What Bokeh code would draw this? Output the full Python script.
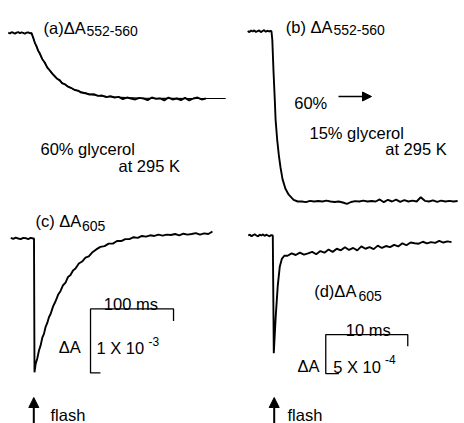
from bokeh.plotting import figure
from bokeh.models import Range1d, Arrow, NormalHead
from bokeh.core.properties import value
from bokeh.embed import file_html
from bokeh.resources import INLINE

# ---------------- data ----------------
# (a) dA552-560, 60% glycerol: time (ms), normalized absorbance change
a_time = [-28, -26, -24, -22, -20, -18, -16, -14, -12, -10, -8, -6, -4, -2, 0,
          2, 4, 6, 8, 10,
          13, 16, 19, 22, 25, 28, 31, 34, 37, 40,
          44, 48, 52, 56, 60,
          65, 70, 75, 80, 85, 90, 95, 100, 105, 110, 115, 120, 125, 130, 135,
          140, 145, 150, 155, 160, 165, 170, 175, 180, 185, 190, 195, 200, 205, 210]
a_signal = [0.005, -0.008, 0.012, 0.004, -0.01, 0.006, 0.014, -0.004, 0.01, 0.002, -0.012, 0.006, 0.01, -0.004, 0.0,
            -0.07, -0.15, -0.2, -0.27, -0.31,
            -0.40, -0.45, -0.53, -0.57, -0.62, -0.66, -0.70, -0.72, -0.77, -0.78,
            -0.82, -0.84, -0.87, -0.88, -0.91,
            -0.92, -0.94, -0.935, -0.96, -0.955, -0.98, -0.965, -0.985, -0.975, -1.01, -0.985, -1.0, -1.015, -0.99, -1.0,
            -1.025, -0.985, -1.005, -1.0, -1.03, -0.985, -1.015, -1.0, -1.025, -0.99, -1.03, -1.0, -0.985, -1.015, -1.0]
a_fit_time = [0, 3, 6, 9, 12, 15, 18, 21, 24, 27, 30, 35, 40, 45, 50, 55, 60, 70, 80, 90,
              100, 115, 130, 150, 170, 190, 210, 234]
a_fit = [0, -0.109, -0.206, -0.293, -0.37, -0.438, -0.5, -0.554, -0.603, -0.646, -0.685, -0.74,
         -0.785, -0.823, -0.854, -0.879, -0.9, -0.932, -0.954, -0.969, -0.979, -0.988, -0.993,
         -0.997, -0.999, -1.0, -1.0, -1.0]

# (b) dA552-560, 60% -> 15% glycerol: time (ms), normalized absorbance change
b_time = [-2.9, -2.7, -2.5, -2.3, -2.1, -1.9, -1.7, -1.5, -1.3, -1.1, -0.9, -0.7, -0.5, -0.3, -0.1, 0,
          0.1, 0.25, 0.4, 0.5, 0.7, 0.9, 1.1, 1.35, 1.7, 2.1, 2.7, 3.2,
          3.7, 4.2, 4.7, 5.2, 5.7, 6.2, 6.7, 7.2, 7.7, 8.2, 8.7, 9.2, 9.7, 10.2, 10.7, 11.2,
          11.7, 12.2, 12.7, 13.2, 13.7, 14.2, 14.7, 15.2, 15.7, 16.2, 16.7, 17.2, 17.7, 18.2,
          18.7, 19.2, 19.7, 20.2, 20.7, 21.2, 21.7, 22.2, 22.7]
b_signal = [0.003, -0.004, 0.006, 0.0, 0.007, -0.003, 0.002, 0.006, -0.004, 0.003, 0.008, -0.002, 0.005, 0.0, 0.004, 0.0,
            -0.05, -0.24, -0.4, -0.52, -0.64, -0.73, -0.8, -0.87, -0.925, -0.96, -0.99, -1.0,
            -1.0, -1.004, -0.996, -1.0, -0.997, -1.0, -0.995, -1.0, -1.003, -1.0, -1.006, -1.014, -1.003, -0.998,
            -1.0, -0.995, -1.0, -0.997, -1.0, -0.988, -1.004, -0.99, -1.0, -0.989, -1.002, -0.992, -1.0,
            -0.995, -1.0, -0.975, -0.996, -1.0, -0.993, -1.002, -0.995, -1.0, -0.996, -1.0, -0.997]

# (c) dA605, 60% glycerol: time (ms), dA (x 1e-4)
c_time = [-28, -25, -22, -19, -16, -13, -10, -7, -4, -1, 0, 0.6,
          2, 4, 6, 8, 10, 12, 14, 16, 18, 20,
          23, 26, 29, 32, 35, 38, 41, 44, 47, 50,
          54, 58, 62, 66, 70,
          75, 80, 85, 90, 95, 100, 105, 110, 115, 120, 125, 130, 135, 140, 145,
          150, 155, 160, 165, 170, 175, 180, 185, 190, 195, 200, 205, 210, 215]
c_signal = [0.1, -0.05, 0.15, 0.0, -0.1, 0.1, 0.05, -0.1, 0.1, 0.0, 0.0, -20.9,
            -19.6, -18.7, -17.5, -16.7, -15.5, -14.9, -13.8, -13.2, -12.3, -11.8,
            -10.6, -9.8, -8.8, -8.2, -7.3, -6.9, -6.0, -5.7, -5.0, -4.7,
            -3.9, -3.6, -3.0, -2.8, -2.2,
            -1.7, -1.3, -1.2, -0.8, -0.8, -0.4, -0.4, -0.1, -0.1, 0.2, 0.1, 0.4, 0.3, 0.5, 0.4,
            0.6, 0.45, 0.6, 0.55, 0.7, 0.5, 0.75, 0.6, 0.7, 0.85, 0.6, 0.8, 0.7, 1.1]

# (d) dA605, 15% glycerol: time (ms), dA (x 1e-4)
d_time = [-3.0, -2.8, -2.6, -2.4, -2.2, -2.0, -1.8, -1.6, -1.4, -1.2, -1.0, -0.8, -0.6, -0.4, -0.2, 0,
          0.12, 0.35, 0.6, 0.85, 1.1, 1.4,
          1.8, 2.3, 2.8, 3.3, 3.8, 4.3, 4.8, 5.3, 5.8, 6.3, 6.8, 7.3, 7.8, 8.3, 8.8, 9.3, 9.8,
          10.3, 10.8, 11.3, 11.8, 12.3, 12.8, 13.3, 13.8, 14.3, 14.8, 15.3, 15.8, 16.3, 16.8,
          17.3, 17.8, 18.3, 18.8, 19.3, 19.8, 20.3, 20.8, 21.3, 21.8]
d_signal = [0.0, 0.1, -0.1, 0.05, 0.15, 0.0, -0.1, 0.1, 0.0, 0.15, -0.05, 0.1, 0.0, -0.1, 0.05, 0.0,
            -15.1, -10.5, -6.5, -4.0, -3.0, -2.6,
            -2.6, -2.3, -2.5, -2.2, -2.45, -2.3, -2.1, -2.4, -2.0, -2.2, -1.8, -2.1, -1.7, -1.9,
            -1.5, -1.85, -1.6, -1.9, -1.4, -1.7, -1.5, -1.75, -1.3, -1.6, -1.35, -1.5, -1.2, -1.4,
            -1.0, -1.25, -0.9, -1.0, -1.05, -0.8, -1.0, -0.85, -0.95, -0.7, -0.9, -0.75, -0.85]

# scale bars
c_bar_ms, c_bar_dA = 100, 10   # 100 ms, 1 x 10^-3
d_bar_ms, d_bar_dA = 10, 5     # 10 ms, 5 x 10^-4

W, H = 464, 423
FONT = value("Liberation Sans")

p = figure(width=W, height=H, x_range=Range1d(0, W), y_range=Range1d(H, 0),
           output_backend="svg", toolbar_location=None, min_border=0,
           x_axis_location=None, y_axis_location=None)
p.grid.visible = False
p.outline_line_color = None
p.background_fill_color = "white"
p.border_fill_color = "white"

# panel placement: (origin x px, px per ms, baseline y px, px per unit)
panels = {
    "a": (31.0, 0.83, 32.5, 65.5),
    "b": (271.0, 8.2, 31.0, 170.0),
    "c": (33.5, 0.83, 238.0, 6.4),
    "d": (272.3, 8.2, 235.0, 7.8),
}
xr, yr = {}, {}
for name, (x0, kx, y0, ky) in panels.items():
    xr[name] = Range1d((0 - x0) / kx, (W - x0) / kx)
    yr[name] = Range1d((y0 - H) / ky, y0 / ky)
p.extra_x_ranges = xr
p.extra_y_ranges = yr

LW = 1.9
p.line(a_fit_time, a_fit, x_range_name="a", y_range_name="a", line_color="black", line_width=1.2)
p.line(a_time, a_signal, x_range_name="a", y_range_name="a", line_color="black", line_width=LW)
p.line(b_time, b_signal, x_range_name="b", y_range_name="b", line_color="black", line_width=LW)
p.line(c_time, c_signal, x_range_name="c", y_range_name="c", line_color="black", line_width=LW)
p.line(d_time, d_signal, x_range_name="d", y_range_name="d", line_color="black", line_width=LW)

# scale bars (drawn in each panel's own data units)
c_t0, c_v0 = 68.1, -11.0
p.line([c_t0 + c_bar_ms, c_t0 + c_bar_ms, c_t0, c_t0, c_t0 + 12],
       [c_v0 - 1.9, c_v0, c_v0, c_v0 - c_bar_dA, c_v0 - c_bar_dA],
       x_range_name="c", y_range_name="c", line_color="black", line_width=1.3)
d_t0, d_v0 = 6.46, -12.7
p.line([d_t0 + d_bar_ms, d_t0 + d_bar_ms, d_t0, d_t0, d_t0 + 1.6],
       [d_v0 - 1.5, d_v0, d_v0, d_v0 - d_bar_dA, d_v0 - d_bar_dA],
       x_range_name="d", y_range_name="d", line_color="black", line_width=1.3)

# arrows
for xa in (33.3, 273.7):
    p.add_layout(Arrow(end=NormalHead(size=10, fill_color="black", line_color="black", line_width=1),
                       x_start=xa, y_start=430, x_end=xa, y_end=397,
                       line_color="black", line_width=2))
p.add_layout(Arrow(end=NormalHead(size=9, fill_color="black", line_color="black", line_width=1),
                   x_start=338, y_start=96, x_end=371, y_end=96,
                   line_color="black", line_width=1.5))

# texts
big = [
    (43, 27.3, "(a)ΔA"), (40, 148.3, "60% glycerol"), (118, 165.7, "at 295 K"),
    (285.3, 26, "(b) ΔA"), (293.7, 102.7, "60%"), (309, 132.7, "15% glycerol"),
    (384.7, 148.3, "at 295 K"),
    (35, 220.7, "(c) ΔA"), (103.3, 303, "100 ms"), (58.3, 346, "ΔA"), (96, 347.7, "1 X 10"),
    (50, 414, "flash"),
    (313.7, 290.7, "(d)ΔA"), (345.3, 329, "10 ms"), (297, 365, "ΔA"), (332.7, 366.7, "5 X 10"),
    (287, 414, "flash"),
]
sub = [(86, 30.7, "552-560"), (333, 29.3, "552-560"), (81.5, 225, "605"), (358, 295, "605")]
sup = [(148, 340.7, "-3"), (384.5, 359.3, "-4")]
for items, size in ((big, "16.5px"), (sub, "14px"), (sup, "12px")):
    p.text(x=[t[0] for t in items], y=[t[1] for t in items], text=[t[2] for t in items],
           text_font=FONT, text_font_size=size, text_color="black",
           text_align="left", text_baseline="alphabetic")

open("out.html", "w").write(file_html(p, INLINE))
